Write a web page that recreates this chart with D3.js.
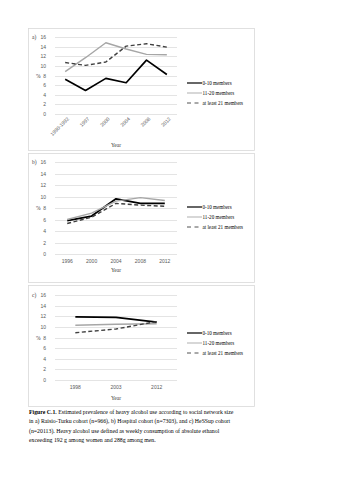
<!DOCTYPE html>
<html>
<head>
<meta charset="utf-8">
<script src="https://cdn.jsdelivr.net/npm/d3@7"></script>
<style>
  html, body { margin: 0; padding: 0; background: #fff; }
  svg { display: block; }
</style>
</head>
<body>
<script>
// ---------- data ----------
const seriesNames = ["0-10 members", "11-20 members", "at least 21 members"];
const yTicks = [0, 2, 4, 6, 8, 10, 12, 14, 16];

const yearsA = ["1990-1992", "1997", "2000", "2004", "2008", "2012"];
const a_0_10 = [7.2, 4.9, 7.4, 6.5, 11.2, 8.2];
const a_11_20 = [8.8, 11.7, 14.8, 13.5, 12.4, 12.3];
const a_21plus = [10.7, 10.1, 10.8, 14.1, 14.6, 13.9];

const yearsB = ["1996", "2000", "2004", "2008", "2012"];
const b_0_10 = [5.8, 6.6, 9.6, 8.8, 8.8];
const b_11_20 = [6.0, 7.1, 9.2, 9.8, 9.3];
const b_21plus = [5.3, 6.4, 8.8, 8.5, 8.3];

const yearsC = ["1998", "2003", "2012"];
const c_0_10 = [11.9, 11.8, 10.9];
const c_11_20 = [10.3, 10.5, 10.6];
const c_21plus = [8.9, 9.6, 11.0];

const captionBold = "Figure C.1.";
const captionLines = [
  " Estimated prevalence of heavy alcohol use according to social network size",
  "in a) Raisio-Turku cohort (n=966), b) Hospital cohort (n=7303), and c) HeSSup cohort",
  "(n=20113). Heavy alcohol use defined as weekly consumption of absolute ethanol",
  "exceeding 192 g among women and 288g among men."
];

// ---------- layout / style ----------
const W = 339, H = 480;
const styles = [
  { stroke: "#000000", width: 1.7, dash: null },
  { stroke: "#a6a6a6", width: 1.4, dash: null },
  { stroke: "#404040", width: 1.4, dash: "4,2.5" }
];
const serif = "'Liberation Serif', 'Times New Roman', serif";
const sans = "'Liberation Sans', Arial, sans-serif";

const panels = [
  { label: "a)", cats: yearsA, series: [a_0_10, a_11_20, a_21plus],
    frame: [28, 28, 254, 150], x: [55, 177], y: [114, 37], rotate: true,
    yearY: 147, legendY: 83 },
  { label: "b)", cats: yearsB, series: [b_0_10, b_11_20, b_21plus],
    frame: [28, 153, 254, 282], x: [55, 177], y: [254, 162], rotate: false,
    yearY: 272, legendY: 207 },
  { label: "c)", cats: yearsC, series: [c_0_10, c_11_20, c_21plus],
    frame: [28, 285, 254, 406], x: [55, 177], y: [380, 295], rotate: false,
    yearY: 400, legendY: 333 }
];

const svg = d3.select("body").append("svg")
  .attr("width", W).attr("height", H)
  .style("background", "#fff");

panels.forEach(p => {
  const g = svg.append("g");
  const [fx0, fy0, fx1, fy1] = p.frame;
  g.append("rect")
    .attr("x", fx0 + 0.5).attr("y", fy0 + 0.5)
    .attr("width", fx1 - fx0).attr("height", fy1 - fy0)
    .attr("fill", "#fff").attr("stroke", "#d9d9d9").attr("stroke-width", 0.8);

  const x = d3.scaleBand().domain(p.cats).range(p.x);
  const y = d3.scaleLinear().domain([0, 16]).range(p.y);

  // gridlines
  g.append("g").selectAll("line").data(yTicks).join("line")
    .attr("x1", p.x[0]).attr("x2", p.x[1])
    .attr("y1", d => Math.round(y(d)) + 0.5).attr("y2", d => Math.round(y(d)) + 0.5)
    .attr("stroke", "#d9d9d9").attr("stroke-width", 0.7);

  // y axis labels
  const yAxis = d3.axisLeft(y).tickValues(yTicks).tickSize(0).tickPadding(0);
  const ya = g.append("g").attr("transform", `translate(${p.x[0] - 9},0)`).call(yAxis);
  ya.select(".domain").remove();
  ya.selectAll("text").attr("font-family", sans).attr("font-size", 5).attr("fill", "#595959");

  // x axis labels
  const xAxis = d3.axisBottom(x).tickSize(0).tickPadding(0);
  const xa = g.append("g").attr("transform", `translate(0,${p.y[0] + (p.rotate ? 3 : 5)})`).call(xAxis);
  xa.select(".domain").remove();
  xa.selectAll("text").attr("font-family", sans).attr("font-size", 5).attr("fill", "#595959");
  if (p.rotate) {
    xa.selectAll("text")
      .attr("text-anchor", "end")
      .attr("dy", "0.35em")
      .attr("transform", "translate(3,1) rotate(-45)");
  } else {
    xa.selectAll("text").attr("dy", "0.71em");
  }

  // panel label, % and Year
  g.append("text").attr("x", 32).attr("y", p.y[1] + 2)
    .attr("font-family", serif).attr("font-size", 5.5).attr("fill", "#404040").text(p.label);
  g.append("text").attr("x", 36).attr("y", y(8) + 2)
    .attr("font-family", serif).attr("font-size", 5.5).attr("fill", "#404040").text("%");
  g.append("text").attr("x", (p.x[0] + p.x[1]) / 2).attr("y", p.yearY)
    .attr("text-anchor", "middle")
    .attr("font-family", serif).attr("font-size", 5.5).attr("fill", "#404040").text("Year");

  // lines
  const line = d3.line()
    .x((d, i) => x(p.cats[i]) + x.bandwidth() / 2)
    .y(d => y(d));
  p.series.forEach((s, k) => {
    g.append("path").datum(s)
      .attr("d", line)
      .attr("fill", "none")
      .attr("stroke", styles[k].stroke)
      .attr("stroke-width", styles[k].width)
      .attr("stroke-dasharray", styles[k].dash)
      .attr("stroke-linejoin", "round");
  });

  // legend
  const lg = g.append("g").attr("transform", `translate(187,${p.legendY})`);
  seriesNames.forEach((name, k) => {
    const row = lg.append("g").attr("transform", `translate(0,${k * 10})`);
    row.append("line").attr("x1", 0).attr("x2", 15).attr("y1", 0).attr("y2", 0)
      .attr("stroke", styles[k].stroke)
      .attr("stroke-width", k === 0 ? 1.2 : 0.9)
      .attr("stroke-dasharray", k === 2 ? "4,3.5" : null);
    row.append("text").attr("x", 15.5).attr("y", 1.7)
      .attr("font-family", serif).attr("font-size", 5.1).attr("fill", "#000")
      .text(name);
  });
});

// caption
const cap = svg.append("text")
  .attr("font-family", serif).attr("font-size", 5.8).attr("fill", "#000");
captionLines.forEach((ln, i) => {
  const t = cap.append("tspan").attr("x", 29).attr("y", 414 + i * 9.3);
  if (i === 0) {
    t.append("tspan").attr("font-weight", "bold").text(captionBold);
    t.append("tspan").text(ln);
  } else {
    t.text(ln);
  }
});
</script>
</body>
</html>
